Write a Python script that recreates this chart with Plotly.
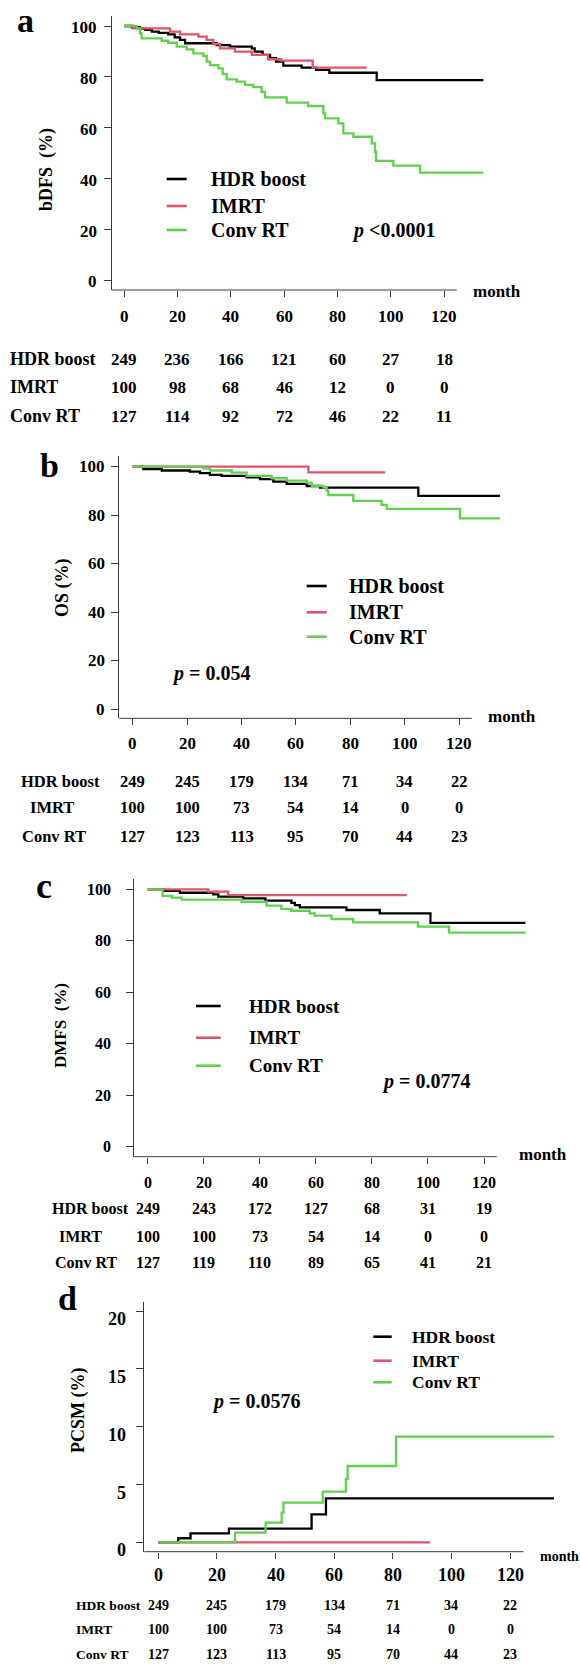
import plotly.graph_objects as go

W, H = 580, 1664

# ---------------- data ----------------
month_ticks = [0, 20, 40, 60, 80, 100, 120]
groups = ["HDR boost", "IMRT", "Conv RT"]

# Panel a: bDFS (%)
a_hdr_t = [0, 3, 6, 8, 10.4, 13, 16.6, 19, 21, 22.9, 34.75, 39.75, 47.9, 49, 52, 54.75, 57, 59.75, 66.6, 72, 77, 94.75, 134.75]
a_hdr_s = [100, 99.5, 99.0, 98.5, 97.8, 97.3, 96.7, 95.5, 94.5, 93.2, 92.5, 91.9, 91.2, 89.9, 88.6, 87.3, 86.0, 84.4, 83.6, 82.7, 81.6, 78.7, 78.7]
a_imrt_t = [0, 3.5, 17.25, 21, 27.9, 31, 33.5, 36, 41.6, 47.9, 54, 59, 70.75, 91]
a_imrt_s = [100, 99.1, 97.8, 96.7, 95.8, 94.5, 92.9, 91.2, 89.9, 88.6, 86.9, 86.4, 83.6, 83.6]
a_conv_t = [0, 4.75, 6, 6.6, 14.1, 16.6, 19.75, 23.5, 26, 29.75, 31, 32.25, 35.4, 37, 38.5, 42.25, 45.4, 48.5, 51.6, 52.9, 61, 69, 74.75, 75.4, 80.4, 82.25, 86, 92.9, 94.1, 94.5, 101, 111, 134.75]
a_conv_s = [100, 99.1, 97.1, 95.1, 94.2, 93.4, 91.9, 90.8, 89.2, 88.2, 86.0, 84.6, 83.3, 81.1, 79.0, 78.1, 76.8, 75.9, 74.1, 71.9, 69.8, 68.5, 65.6, 63.6, 61.7, 57.7, 56.4, 53.8, 50.5, 46.9, 45.0, 42.3, 42.3]
a_risk_hdr = [249, 236, 166, 121, 60, 27, 18]
a_risk_imrt = [100, 98, 68, 46, 12, 0, 0]
a_risk_conv = [127, 114, 92, 72, 46, 22, 11]

# Panel b: OS (%)
b_hdr_t = [0, 3.9, 10.7, 21, 24.75, 28.4, 32.7, 41.9, 46.8, 51.7, 56.6, 64, 68.9, 105, 135]
b_hdr_s = [100, 99.0, 98.4, 97.9, 97.3, 96.6, 96.2, 95.6, 94.8, 93.8, 92.9, 92.0, 91.3, 87.9, 87.9]
b_imrt_t = [0, 64.6, 92.8]
b_imrt_s = [100, 97.6, 97.6]
b_conv_t = [0, 26, 28.4, 36.4, 41.9, 51.1, 56.6, 64, 65.8, 70.1, 71.3, 71.9, 81.1, 91.5, 93.4, 120.3, 135]
b_conv_s = [100, 99.3, 98.4, 97.5, 96.2, 95.2, 94.2, 93.4, 92.0, 91.5, 90.1, 88.3, 85.9, 84.2, 82.6, 78.7, 78.7]
b_risk_hdr = [249, 245, 179, 134, 71, 34, 22]
b_risk_imrt = [100, 100, 73, 54, 14, 0, 0]
b_risk_conv = [127, 123, 113, 95, 70, 44, 23]

# Panel c: DMFS (%)
c_hdr_t = [0, 5.6, 11.5, 23.4, 25.2, 34.1, 42, 51.3, 52.5, 54.3, 70.9, 82.8, 100.9, 134.8]
c_hdr_s = [100, 99.4, 98.7, 98.1, 97.2, 96.5, 95.6, 94.8, 93.9, 93.0, 92.0, 90.7, 87.0, 87.0]
c_imrt_t = [0, 21.6, 28.7, 92.5]
c_imrt_s = [100, 99.1, 97.8, 97.8]
c_conv_t = [0, 5.3, 8.6, 12.1, 33.5, 42.4, 47.7, 51.3, 57.8, 59.6, 65.6, 73.3, 96.4, 107.5, 134.8]
c_conv_s = [100, 97.5, 96.8, 96.0, 95.2, 93.7, 92.4, 91.7, 90.7, 89.8, 88.5, 87.2, 85.5, 83.2, 83.2]
c_risk_hdr = [249, 243, 172, 127, 68, 31, 19]
c_risk_imrt = [100, 100, 73, 54, 14, 0, 0]
c_risk_conv = [127, 119, 110, 89, 65, 41, 21]

# Panel d: PCSM (%)
d_hdr_t = [0, 6.8, 11, 24.1, 52.3, 57.2, 135]
d_hdr_s = [0, 0.35, 0.78, 1.18, 2.42, 3.80, 3.80]
d_imrt_t = [0, 92.7]
d_imrt_s = [0, 0]
d_conv_t = [0, 26.2, 36.6, 42.1, 42.7, 56.1, 64.0, 64.6, 81.1, 135]
d_conv_s = [0, 0.84, 1.70, 2.56, 3.43, 4.38, 5.48, 6.60, 9.14, 9.14]
d_risk_hdr = [249, 245, 179, 134, 71, 34, 22]
d_risk_imrt = [100, 100, 73, 54, 14, 0, 0]
d_risk_conv = [127, 123, 113, 95, 70, 44, 23]

# ---------------- styling / layout config ----------------
COLORS = ["#000000", "#DF536B", "#61D04F"]
AXC = "#3a3a3a"
FONT = "Liberation Serif"

panels = [
    dict(letter="a", ytitle="bDFS  (%)", pval="<i>p</i> &lt;0.0001",
         curves=[(a_hdr_t, a_hdr_s), (a_imrt_t, a_imrt_s), (a_conv_t, a_conv_s)],
         risk=[a_risk_hdr, a_risk_imrt, a_risk_conv],
         yticks=[0, 20, 40, 60, 80, 100],
         px0=124.0, ppx=2.667, py0=280.0, ppy=2.54,
         left=111.7, top=16, bottom=290, xend=456.7,
         ytl_right=99, ytl_shift=-2, ytl_size=17, xtl_y=316, xtl_size=17,
         month=(471, 292), month_size=17, risk_y=[359, 387, 416], risk_lx=[8, 8, 8], risk_lsize=18, risk_nsize=17,
         ytitle_pos=(46, 170), ytitle_size=18, letter_pos=(25, 21), letter_size=34,
         leg_x=(166.7, 186.7), leg_y=[179, 206, 230], leg_tx=209, leg_size=20,
         p_pos=(350, 230), p_size=20),
    dict(letter="b", ytitle="OS (%)", pval="<i>p</i> = 0.054",
         curves=[(b_hdr_t, b_hdr_s), (b_imrt_t, b_imrt_s), (b_conv_t, b_conv_s)],
         risk=[b_risk_hdr, b_risk_imrt, b_risk_conv],
         yticks=[0, 20, 40, 60, 80, 100],
         px0=132.7, ppx=2.72, py0=709.3, ppy=2.427,
         left=119.3, top=456, bottom=718.3, xend=471.7,
         ytl_right=107, ytl_shift=0, ytl_size=17, xtl_y=743, xtl_size=17,
         month=(486, 716), month_size=17, risk_y=[781, 807, 836], risk_lx=[19, 28, 20], risk_lsize=16.5, risk_nsize=16.5,
         ytitle_pos=(62, 588), ytitle_size=18, letter_pos=(49, 465), letter_size=34,
         leg_x=(306.7, 326.7), leg_y=[586, 612.3, 636.7], leg_tx=347, leg_size=20,
         p_pos=(170, 673), p_size=20),
    dict(letter="c", ytitle="DMFS  (%)", pval="<i>p</i> = 0.0774",
         curves=[(c_hdr_t, c_hdr_s), (c_imrt_t, c_imrt_s), (c_conv_t, c_conv_s)],
         risk=[c_risk_hdr, c_risk_imrt, c_risk_conv],
         yticks=[0, 20, 40, 60, 80, 100],
         px0=147.7, ppx=2.8025, py0=1146.7, ppy=2.573,
         left=134.3, top=879.3, bottom=1156.7, xend=496.7,
         ytl_right=113, ytl_shift=0, ytl_size=16, xtl_y=1182.7, xtl_size=16,
         month=(517, 1154), month_size=17, risk_y=[1208.3, 1236.7, 1262.3], risk_lx=[50, 57, 53], risk_lsize=16, risk_nsize=16,
         ytitle_pos=(60, 1026), ytitle_size=17, letter_pos=(43.5, 886), letter_size=36,
         leg_x=(196, 220.7), leg_y=[1006, 1037.7, 1065.7], leg_tx=247, leg_size=19,
         p_pos=(380, 1081.7), p_size=20),
    dict(letter="d", ytitle="PCSM (%)", pval="<i>p</i> = 0.0576",
         curves=[(d_hdr_t, d_hdr_s), (d_imrt_t, d_imrt_s), (d_conv_t, d_conv_s)],
         risk=[d_risk_hdr, d_risk_imrt, d_risk_conv],
         yticks=[0, 5, 10, 15, 20],
         px0=158.3, ppx=2.931, py0=1542.3, ppy=11.56,
         left=144.3, top=1301.7, bottom=1551.7, xend=523.3,
         ytl_right=128, ytl_shift=-8, ytl_size=18, xtl_y=1575, xtl_size=18,
         month=(538, 1556), month_size=14, risk_y=[1605, 1629, 1654], risk_lx=[74, 74, 74], risk_lsize=13.5, risk_nsize=14,
         ytitle_pos=(78, 1411), ytitle_size=18, letter_pos=(67, 1298), letter_size=34,
         leg_x=(373.3, 391.7), leg_y=[1336.7, 1360.7, 1382.3], leg_tx=410, leg_size=17.5,
         p_pos=(210, 1401), p_size=20),
]

RIGHT = 575


def fx(px):
    return px / W


def fy(py):
    return 1 - py / H


def bfont(size, color="black"):
    return dict(family=FONT, size=size, color=color, weight="bold")


fig = go.Figure()
annotations = []
shapes = []
layout_axes = {}

for i, p in enumerate(panels, start=1):
    sfx = "" if i == 1 else str(i)
    xref, yref = "x" + sfx, "y" + sfx
    xr = [(p["left"] - p["px0"]) / p["ppx"], (RIGHT - p["px0"]) / p["ppx"]]
    yr = [(p["py0"] - p["bottom"]) / p["ppy"], (p["py0"] - p["top"]) / p["ppy"]]
    layout_axes["xaxis" + sfx] = dict(
        domain=[fx(p["left"]), fx(RIGHT)], range=xr, anchor=yref,
        showgrid=False, zeroline=False, showline=False,
        ticks="outside", ticklen=6, tickwidth=1, tickcolor=AXC,
        tickvals=month_ticks, showticklabels=False, fixedrange=True)
    layout_axes["yaxis" + sfx] = dict(
        domain=[fy(p["bottom"]), fy(p["top"])], range=yr, anchor=xref,
        showgrid=False, zeroline=False, showline=True, linecolor=AXC, linewidth=1,
        ticks="outside", ticklen=7, tickwidth=1, tickcolor=AXC,
        tickvals=p["yticks"], showticklabels=False, fixedrange=True)

    # curves
    for g, (t, s), col in zip(groups, p["curves"], COLORS):
        fig.add_trace(go.Scatter(x=t, y=s, mode="lines", line=dict(color=col, width=2.3, shape="hv"),
                                 name=g, showlegend=False, xaxis=xref, yaxis=yref, hoverinfo="skip"))

    # x-axis line (L-shaped frame)
    shapes.append(dict(type="line", xref="paper", yref="paper",
                       x0=fx(p["left"]), x1=fx(p["xend"]), y0=fy(p["bottom"]), y1=fy(p["bottom"]),
                       line=dict(color=AXC, width=1)))

    # x tick labels
    for tv in month_ticks:
        annotations.append(dict(x=tv, xref=xref, y=fy(p["xtl_y"]), yref="paper", text=str(tv),
                                showarrow=False, xanchor="center", yanchor="middle",
                                font=bfont(p["xtl_size"])))
    # y tick labels
    for tv in p["yticks"]:
        annotations.append(dict(x=fx(p["ytl_right"]), xref="paper", y=tv, yref=yref, text=str(tv),
                                showarrow=False, xanchor="right", yanchor="middle", yshift=p["ytl_shift"],
                                font=bfont(p["ytl_size"])))
    # month label
    annotations.append(dict(x=fx(p["month"][0]), y=fy(p["month"][1]), xref="paper", yref="paper",
                            text="month", showarrow=False, xanchor="left", yanchor="middle",
                            font=bfont(p["month_size"])))
    # y title
    annotations.append(dict(x=fx(p["ytitle_pos"][0]), y=fy(p["ytitle_pos"][1]), xref="paper", yref="paper",
                            text=p["ytitle"], textangle=-90, showarrow=False,
                            xanchor="center", yanchor="middle", font=bfont(p["ytitle_size"])))
    # panel letter
    annotations.append(dict(x=fx(p["letter_pos"][0]), y=fy(p["letter_pos"][1]), xref="paper", yref="paper",
                            text=p["letter"], showarrow=False, xanchor="center", yanchor="middle",
                            font=bfont(p["letter_size"])))
    # legend
    for g, col, ly in zip(groups, COLORS, p["leg_y"]):
        shapes.append(dict(type="line", xref="paper", yref="paper",
                           x0=fx(p["leg_x"][0]), x1=fx(p["leg_x"][1]), y0=fy(ly), y1=fy(ly),
                           line=dict(color=col, width=2.6)))
        annotations.append(dict(x=fx(p["leg_tx"]), y=fy(ly), xref="paper", yref="paper", text=g,
                                showarrow=False, xanchor="left", yanchor="middle",
                                font=bfont(p["leg_size"])))
    # p value
    annotations.append(dict(x=fx(p["p_pos"][0]), y=fy(p["p_pos"][1]), xref="paper", yref="paper",
                            text=p["pval"], showarrow=False, xanchor="left", yanchor="middle",
                            font=bfont(p["p_size"])))
    # risk table
    for g, row, ry, lx in zip(groups, p["risk"], p["risk_y"], p["risk_lx"]):
        annotations.append(dict(x=fx(lx), y=fy(ry), xref="paper", yref="paper", text=g,
                                showarrow=False, xanchor="left", yanchor="middle",
                                font=bfont(p["risk_lsize"])))
        for tv, n in zip(month_ticks, row):
            annotations.append(dict(x=tv, xref=xref, y=fy(ry), yref="paper", text=str(n),
                                    showarrow=False, xanchor="center", yanchor="middle",
                                    font=bfont(p["risk_nsize"])))

fig.update_layout(
    width=W, height=H, margin=dict(l=0, r=0, t=0, b=0),
    paper_bgcolor="white", plot_bgcolor="rgba(0,0,0,0)",
    showlegend=False, annotations=annotations, shapes=shapes,
    font=dict(family=FONT, color="black"),
    **layout_axes)

fig.write_html("out.html", config={"displayModeBar": False},
               post_script="document.body.style.margin='0';document.body.style.padding='0';")
